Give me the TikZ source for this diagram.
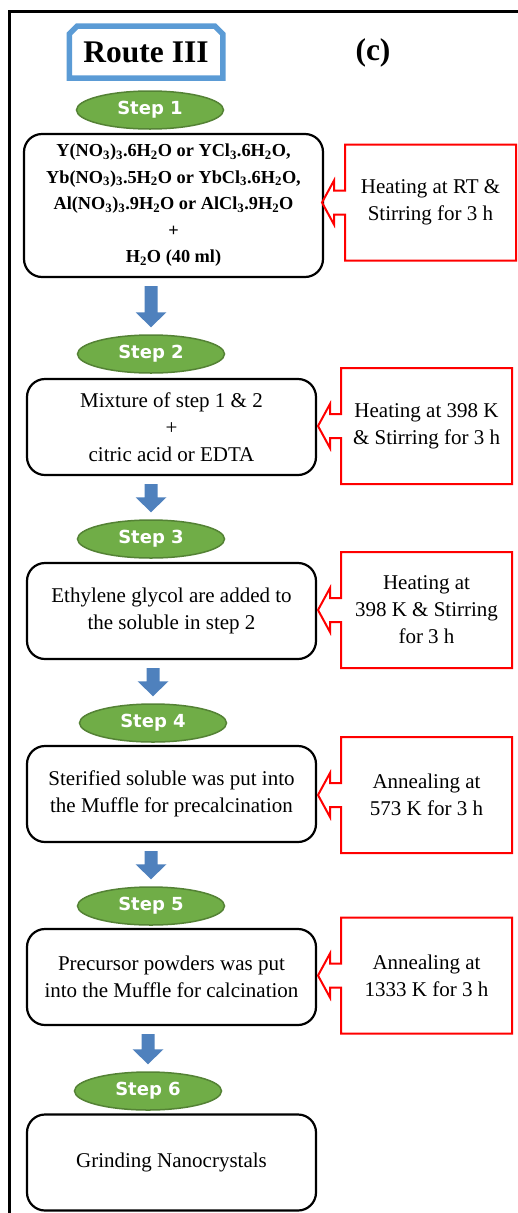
\documentclass[tikz,border=0pt]{standalone}
\usepackage{fontspec}
\setmainfont{Liberation Serif}
\newfontfamily\stepfont{DejaVu Sans}
\usepackage{tikz}
\usetikzlibrary{calc,shapes.geometric,shapes.misc}
\definecolor{routeblue}{HTML}{5B9BD5}
\definecolor{arrowblue}{HTML}{4F81BD}
\definecolor{stepgreen}{HTML}{70AD47}
\definecolor{stepedge}{HTML}{548235}
\newcommand{\subs}[1]{\textsubscript{#1}}
\def\callout(#1){\draw[line width=2pt, red] ($(#1.west)+(0,-12)$) |- (#1.north east) |- (#1.south west) -- ($(#1.west)+(0,12)$) -- ++(-11,0) -- ++(0,10) -- ++(-12,-22) -- ++(12,-22) -- ++(0,10) -- cycle;}
\def\flowarrow(#1)(#2){\fill[arrowblue] ($(#1)+(-6.5,8)$) -- ($(#1)+(6.5,8)$) -- ($(#2)+(6.5,-22)$) -- ($(#2)+(15.5,-22)$) -- ($(#2)+(0,-7)$) -- ($(#2)+(-15.5,-22)$) -- ($(#2)+(-6.5,-22)$) -- cycle;}

\begin{document}
\begin{tikzpicture}[x=1pt, y=-1pt,
		stepnode/.style={ellipse, draw=stepedge, line width=1.5pt, fill=stepgreen, minimum width=147pt, minimum height=38pt, inner sep=0pt, text=white, font=\stepfont\bfseries\fontsize{18}{20}\selectfont},
		procbox/.style={rectangle, rounded corners=18pt, draw=black, line width=2.2pt, minimum width=289pt, minimum height=96pt, inner sep=0pt, align=center, font=\fontsize{21}{27}\selectfont},
		heatbox/.style={rectangle, minimum width=171pt, minimum height=116pt, inner sep=0pt, outer sep=0pt, align=center, font=\fontsize{21}{27}\selectfont},
		routebox/.style={chamfered rectangle, chamfered rectangle corners={north west, north east}, chamfered rectangle xsep=4pt, chamfered rectangle ysep=4pt, draw=routeblue, line width=5.5pt, minimum width=153.5pt, minimum height=52pt, font=\bfseries\fontsize{31.5}{36}\selectfont}]
		%%%%% START %%%%%
		
		\useasboundingbox (0,0) rectangle (517,1213);
		\draw[line width=2.5pt] (9.3,1220) |- (520,11.5);
		
		\node[routebox] (route) at (146,52) {Route III};
		\node[font=\bfseries\fontsize{31.5}{36}\selectfont] (panel) at (373,53) {(c)};
		
		\node[stepnode] (step1) at (150,110) {Step 1};
		\node[procbox, minimum width=299pt, minimum height=143pt, font=\bfseries\fontsize{18.3}{26.5}\selectfont] (box1) at (173.5,205.5) {Y(NO\subs{3})\subs{3}.6H\subs{2}O or YCl\subs{3}.6H\subs{2}O,\\Yb(NO\subs{3})\subs{3}.5H\subs{2}O or YbCl\subs{3}.6H\subs{2}O,\\Al(NO\subs{3})\subs{3}.9H\subs{2}O or AlCl\subs{3}.9H\subs{2}O\\+\\H\subs{2}O (40 ml)};
		\node[heatbox] (heat1) at (430.5,202.5) {Heating at RT \&\\Stirring for 3 h};
		\callout(heat1)
		
		\node[stepnode] (step2) at (151,354) {Step 2};
		\node[procbox] (box2) at (171.5,427) {Mixture of step 1 \& 2\\+\\citric acid or EDTA};
		\node[heatbox] (heat2) at (426.5,426) {Heating at 398 K\\\& Stirring for 3 h};
		\callout(heat2)
		\flowarrow(box1.south -| step2.center)(step2.north)
		
		\node[stepnode] (step3) at (151,539) {Step 3};
		\node[procbox] (box3) at (171.5,611) {Ethylene glycol are added to\\the soluble in step 2};
		\node[heatbox] (heat3) at (426.5,610) {Heating at\\398 K \& Stirring\\for 3 h};
		\callout(heat3)
		\flowarrow(box2.south -| step3.center)(step3.north)
		
		\node[stepnode] (step4) at (153,723) {Step 4};
		\node[procbox] (box4) at (171.5,794) {Sterified soluble was put into\\the Muffle for precalcination};
		\node[heatbox] (heat4) at (426.5,795) {Annealing at\\573 K for 3 h};
		\callout(heat4)
		\flowarrow(box3.south -| step4.center)(step4.north)
		
		\node[stepnode] (step5) at (151,906) {Step 5};
		\node[procbox] (box5) at (171.5,977) {Precursor powders was put\\into the Muffle for calcination};
		\node[heatbox] (heat5) at (426.5,975.5) {Annealing at\\1333 K for 3 h};
		\callout(heat5)
		\flowarrow(box4.south -| step5.center)(step5.north)
		
		\node[stepnode] (step6) at (148,1091) {Step 6};
		\node[procbox] (box6) at (171.5,1162.5) {Grinding Nanocrystals};
		\flowarrow(box5.south -| step6.center)(step6.north)
		
		%%%%% END %%%%%
	\end{tikzpicture}
\end{document}
